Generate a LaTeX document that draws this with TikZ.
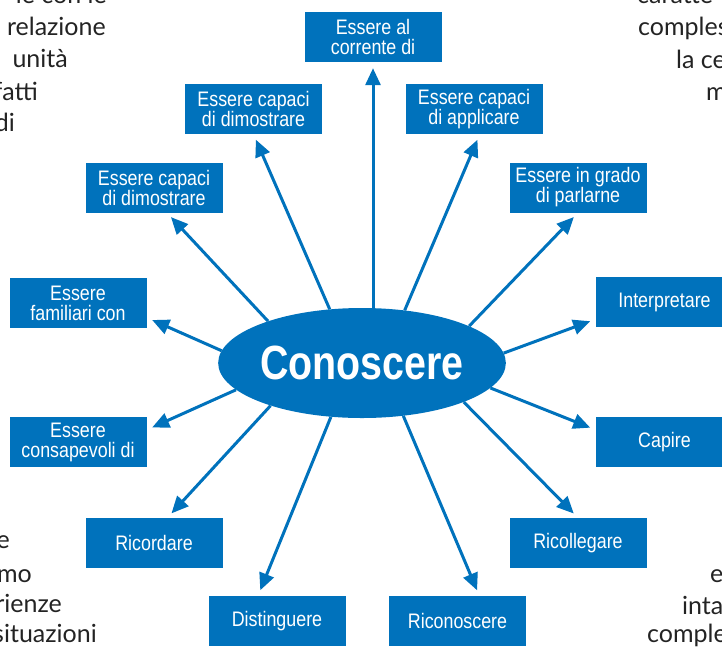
\documentclass[tikz,border=0pt]{standalone}
\usepackage{fontspec}
\usetikzlibrary{shapes.geometric,arrows.meta}
\newfontfamily\boxfont{Liberation Sans}[FakeStretch=0.85]
\newfontfamily\bigfont{Liberation Sans}[FakeStretch=0.82]
\newfontfamily\bodyfont{Lato}
\definecolor{blu}{RGB}{0,114,188}
\definecolor{ink}{RGB}{35,35,35}

\begin{document}
\begin{tikzpicture}[x=1pt,y=-1pt,>={Triangle[length=17pt,width=15pt]},
    box/.style={fill=blu,text=white,minimum width=137pt,minimum height=50pt,inner sep=0pt,
        align=center,font=\boxfont\fontsize{21}{20}\selectfont},
    arr/.style={->,draw=blu,fill=blu,line width=3pt,shorten >=6pt},
    txt/.style={text=ink,inner sep=0pt,font=\bodyfont\fontsize{25}{25}\selectfont}]
    \useasboundingbox (0,0) rectangle (722,646);
    \clip (0,0) rectangle (722,646);

    % text of the page around the map
    \node[txt,anchor=base east] (tl0) at (107,3) {le con le};
    \node[txt,anchor=base east] (tl1) at (106,35) {relazione};
    \node[txt,anchor=base east] (tl2) at (68,67) {unità};
    \node[txt,anchor=base east] (tl3) at (38,100) {fatti};
    \node[txt,anchor=base east] (tl4) at (15,131) {di};
    \node[txt,anchor=base west] (tr0) at (637,3) {caratte};
    \node[txt,anchor=base west] (tr1) at (638,35) {comples};
    \node[txt,anchor=base west] (tr2) at (676,68) {la ce};
    \node[txt,anchor=base west] (tr3) at (706,100) {m};
    \node[txt,anchor=base east] (bl0) at (10,548) {e};
    \node[txt,anchor=base east] (bl1) at (32,582) {mo};
    \node[txt,anchor=base east] (bl2) at (62,612) {rienze};
    \node[txt,anchor=base east] (bl3) at (97,642) {situazioni};
    \node[txt,anchor=base west] (br0) at (710,582) {e};
    \node[txt,anchor=base west] (br1) at (682,614) {inta};
    \node[txt,anchor=base west] (br2) at (647,642) {comple};

    % centre
    \node[ellipse,fill=blu,text=white,minimum width=284pt,minimum height=110pt,inner sep=0pt,
        font=\bigfont\bfseries\fontsize{48}{48}\selectfont] (cn) at (362,363) {Conoscere};

    % boxes
    \node[box] (b1) at (373,37) {Essere al\\corrente di};
    \node[box] (b2) at (253.5,109) {Essere capaci\\di dimostrare};
    \node[box] (b3) at (474,109) {Essere capaci\\di applicare};
    \node[box] (b4) at (154,187.5) {Essere capaci\\di dimostrare};
    \node[box] (b5) at (578,187.5) {Essere in grado\\di parlarne};
    \node[box] (b6) at (78,303) {Essere\\familiari con};
    \node[box] (b7) at (664.5,302) {Interpretare};
    \node[box] (b8) at (78,442) {Essere\\consapevoli di};
    \node[box] (b9) at (664.5,442) {Capire};
    \node[box] (b10) at (154,543) {Ricordare};
    \node[box] (b11) at (578,543) {Ricollegare};
    \node[box] (b12) at (277,621) {Distinguere};
    \node[box] (b13) at (457.5,621) {Riconoscere};

    % arrows
    \draw[arr] (cn.north -| b1.south) -- (b1.south);
    \draw[arr] (cn.121) -- (b2.south);
    \draw[arr] (cn.51) -- (b3.-77);
    \draw[arr] (cn.156.5) -- (b4.-63);
    \draw[arr] (cn.19.4) -- (b5.south);
    \draw[arr] (cn.175.5) -- (b6.-12);
    \draw[arr] (cn.4.6) -- (b7.-166);
    \draw[arr] (cn.-168) -- (b8.10);
    \draw[arr] (cn.-11.7) -- (b9.170);
    \draw[arr] (cn.-155) -- (b10.62);
    \draw[arr] (cn.-21.6) -- (b11.north);
    \draw[arr] (cn.-120) -- (b12.127);
    \draw[arr] (cn.-52) -- (b13.49);
\end{tikzpicture}
\end{document}
